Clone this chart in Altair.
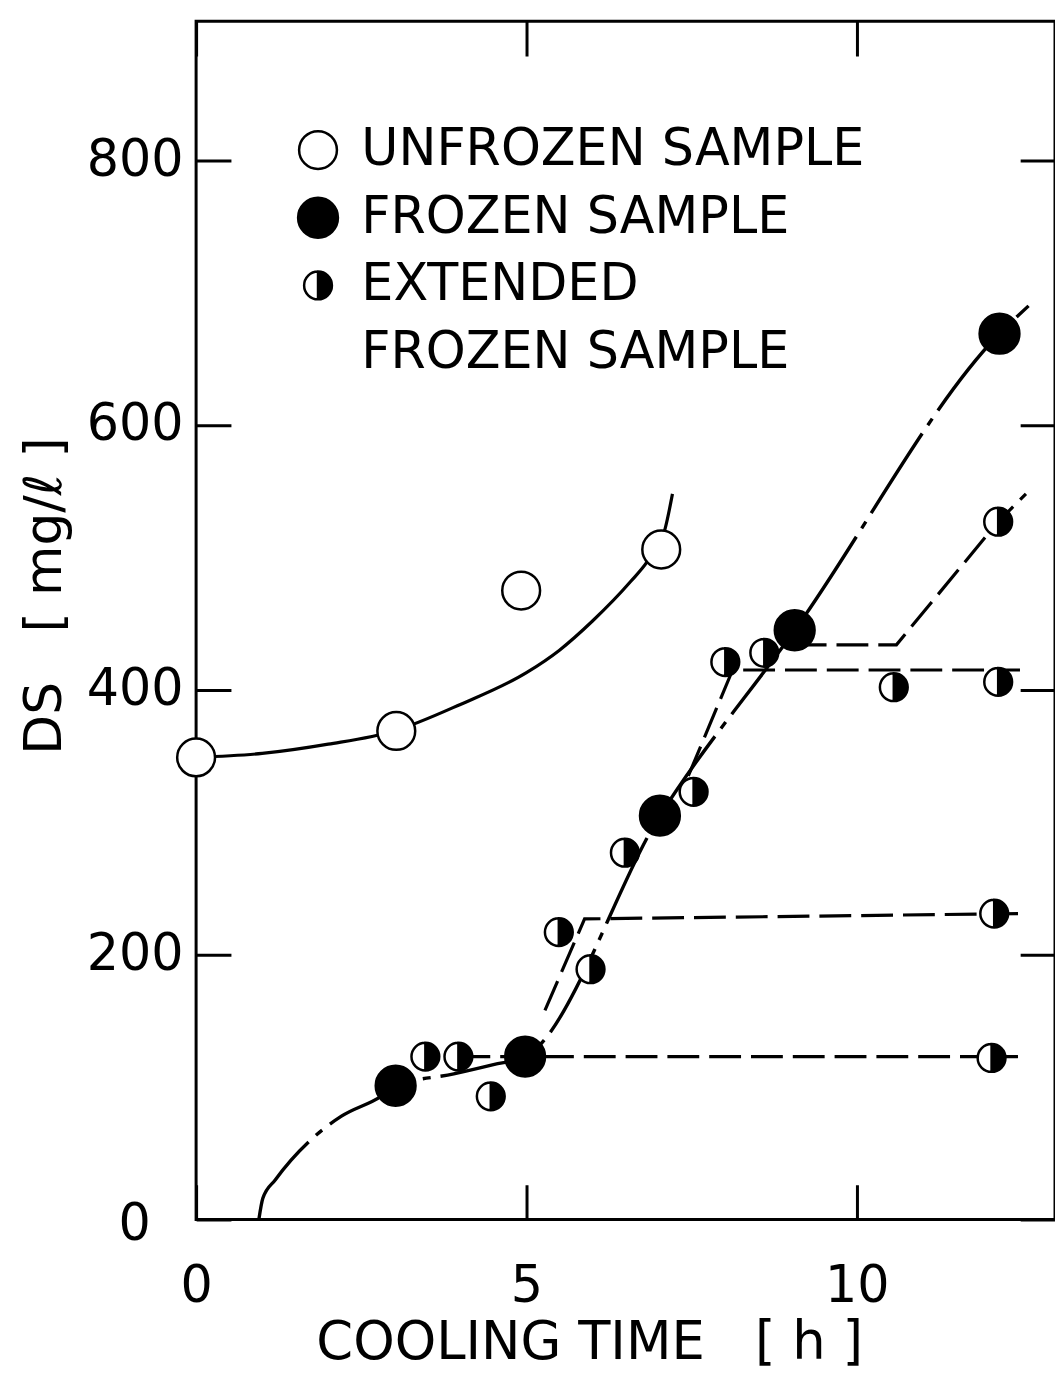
import altair as alt
import pandas as pd

# ---------------- data ----------------
# measured points
unfrozen_x = [0.0, 3.03, 4.92, 7.04]
unfrozen_y = [349, 369, 475, 506]

frozen_x = [3.02, 4.98, 7.02, 9.06, 12.16]
frozen_y = [101, 123, 305, 445, 669]

ext_x = [3.47, 3.97, 4.46, 5.49, 5.97, 6.49, 7.53, 8.01, 8.60, 10.56, 12.14, 12.14, 12.08, 12.04]
ext_y = [123, 123, 93, 217, 189, 277, 323, 421, 428, 402, 406, 527, 231, 122]

# hand-drawn curves / lines in the figure
unfrozen_curve_x = [0.0, 1.0, 2.0, 3.0, 4.0, 5.0, 5.5, 6.0, 6.58, 6.83, 7.10, 7.21]
unfrozen_curve_y = [349, 352, 359, 369, 389, 413, 430, 452, 482, 497, 522, 548]

frozen_curve_x = [0.95, 1.01, 1.2, 1.8, 2.2, 2.8, 3.02, 3.9, 4.5, 4.98, 7.02, 9.06, 12.16, 12.6]
frozen_curve_y = [0, 16, 30, 63, 78, 93, 101, 110, 117, 123, 305, 445, 669, 690]

ext_line_a_x = [3.97, 12.44]
ext_line_a_y = [123, 123]
ext_line_b_x = [5.28, 5.88, 12.44]
ext_line_b_y = [158, 227, 231]
ext_line_c_x = [7.45, 8.12, 12.47]
ext_line_c_y = [335, 415, 415]
ext_line_d_x = [9.06, 10.6, 12.14, 12.56]
ext_line_d_y = [434, 434, 527, 548]

x_ticks = [0, 5, 10]
y_ticks = [0, 200, 400, 600, 800]

S_UN = "UNFROZEN SAMPLE"
S_FR = "FROZEN SAMPLE"
S_EX = "EXTENDED FROZEN SAMPLE"
S_CONT = "cont"

# ---------------- tables ----------------
pts = pd.concat([
    pd.DataFrame({"x": unfrozen_x, "y": unfrozen_y, "series": S_UN}),
    pd.DataFrame({"x": frozen_x, "y": frozen_y, "series": S_FR}),
    pd.DataFrame({"x": ext_x, "y": ext_y, "series": S_EX}),
], ignore_index=True)
ext_df = pd.DataFrame({"x": ext_x, "y": ext_y})
uc = pd.DataFrame({"x": unfrozen_curve_x, "y": unfrozen_curve_y})
fc = pd.DataFrame({"x": frozen_curve_x, "y": frozen_curve_y})
lines = []
for name, xs, ys in [("a", ext_line_a_x, ext_line_a_y), ("b", ext_line_b_x, ext_line_b_y),
                     ("c", ext_line_c_x, ext_line_c_y), ("d", ext_line_d_x, ext_line_d_y)]:
    lines.append(pd.DataFrame({"x": xs, "y": ys, "line": name, "o": list(range(len(xs)))}))
el = pd.concat(lines, ignore_index=True)

FONT = "DejaVu Sans"
W, H = 863, 1204
TICK = 35

X = alt.X("x:Q",
          scale=alt.Scale(domain=[0, 13], nice=False, zero=False),
          axis=alt.Axis(values=x_ticks, title="COOLING TIME\u00a0\u00a0\u00a0[ h ]",
                        labelFlush=False, domain=False, ticks=False, tickSize=0,
                        labelPadding=42, labelFontSize=51, labelFont=FONT, labelColor="black",
                        titleFontSize=53, titleFont=FONT, titleFontWeight="normal", titleColor="black",
                        titleX=395, titleY=140, titleAlign="center", titleBaseline="alphabetic",
                        grid=True, gridColor="black", gridWidth=3, gridOpacity=1,
                        gridDash=[TICK, H - 2 * TICK, TICK, 3000]))
Y = alt.Y("y:Q",
          scale=alt.Scale(domain=[0, 905], nice=False, zero=False),
          axis=alt.Axis(values=y_ticks, title="DS\u00a0\u00a0\u00a0[ mg/\u2113 ]",
                        domain=False, ticks=False, tickSize=0,
                        labelPadding={"condition": {"test": "datum.value == 0", "value": 46}, "value": 13},
                        labelOffset={"condition": {"test": "datum.value == 0", "value": 5}, "value": 0},
                        labelFontSize=51, labelFont=FONT, labelColor="black",
                        titleFontSize=52, titleFont=FONT, titleFontWeight="normal", titleColor="black",
                        titleAngle=270, titleX=-152, titleY=577, titleAlign="center", titleBaseline="middle",
                        grid=True, gridColor="black", gridWidth=3, gridOpacity=1,
                        gridDash=[TICK, W - 2 * TICK, TICK, 3000]))

HALF = "M0,-1A1,1,0,0,1,0,1Z M0,1A1,1,0,0,1,0,-1A1,1,0,0,0,0,1"
dom = [S_UN, S_FR, S_EX, S_CONT]

legend = alt.Legend(orient="none", legendX=97, legendY=104, title=None,
                    labelFontSize=51, labelFont=FONT, labelColor="black", labelOffset=18,
                    rowPadding=16, labelLimit=0, padding=0,
                    symbolStrokeColor="black", symbolStrokeWidth=2.5, symbolOpacity=1,
                    labelExpr=f"datum.label == '{S_EX}' ? 'EXTENDED' : (datum.label == '{S_CONT}' ? '{S_FR}' : datum.label)")

unfrozen_line = alt.Chart(uc).mark_line(interpolate="monotone", color="black", strokeWidth=3.2).encode(x=X, y=Y)
frozen_line = alt.Chart(fc).mark_line(interpolate="monotone", color="black", strokeWidth=3.4,
                                      strokeDash=[95, 10, 8, 10]).encode(x=X, y=Y)
ext_lines = alt.Chart(el).mark_line(color="black", strokeWidth=3.2, strokeDash=[32, 10]).encode(
    x=X, y=Y, detail="line:N", order="o:Q")
ext_back = alt.Chart(ext_df).mark_point(shape="circle", filled=True, color="white", size=780, opacity=1).encode(x=X, y=Y)
points = alt.Chart(pts).mark_point(filled=True, strokeWidth=2.5, opacity=1).encode(
    x=X, y=Y,
    shape=alt.Shape("series:N", scale=alt.Scale(domain=dom, range=["circle", "circle", HALF, "M0,0"]), legend=legend),
    fill=alt.Fill("series:N", scale=alt.Scale(domain=dom, range=["white", "black", "black", "white"]), legend=legend),
    stroke=alt.Stroke("series:N", scale=alt.Scale(domain=dom, range=["black", "black", "black", "black"]), legend=legend),
    size=alt.Size("series:N", scale=alt.Scale(type="ordinal", domain=dom, range=[1444, 1600, 780, 0]), legend=legend),
)

chart = alt.layer(unfrozen_line, frozen_line, ext_lines, ext_back, points).properties(
    width=W, height=H,
    autosize=alt.AutoSizeParams(type="none"),
    padding={"left": 189, "top": 10, "right": 0, "bottom": 154},
    background="white",
).configure(font=FONT, view=alt.ViewConfig(stroke="black", strokeWidth=3))

chart.save("out.html", embed_options={"renderer": "svg", "actions": False})
